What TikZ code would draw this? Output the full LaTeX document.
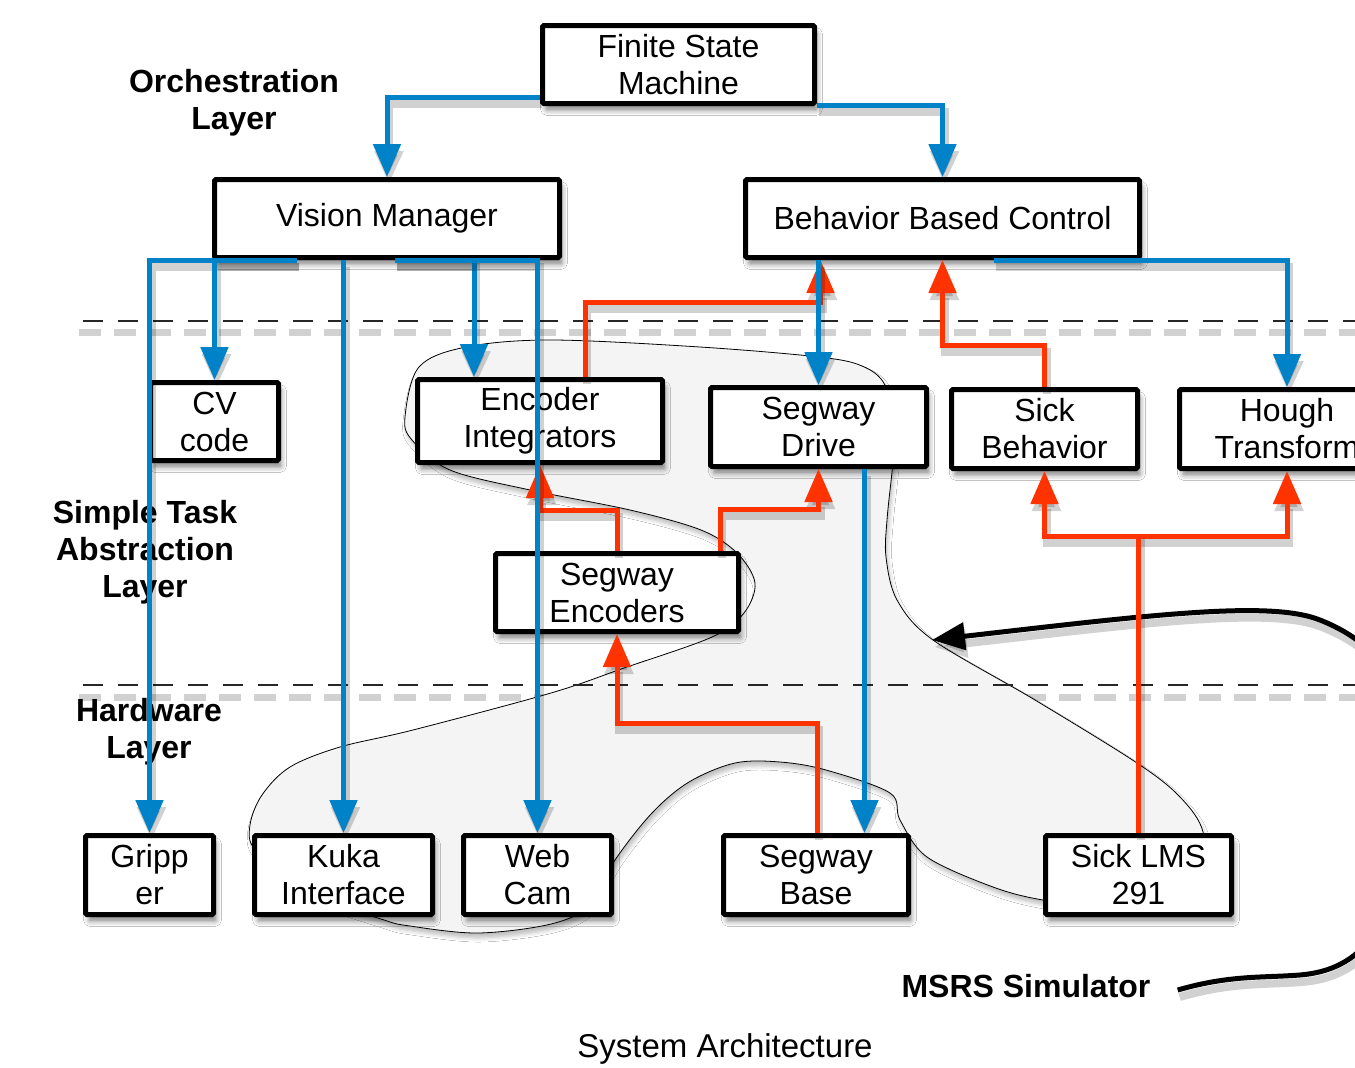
\documentclass[tikz,border=0pt]{standalone}
\usepackage{fontspec}
\setmainfont{Liberation Sans}
\usetikzlibrary{arrows.meta,shadows.blur,calc}
\definecolor{myblue}{RGB}{0,130,200}
\definecolor{myred}{RGB}{255,51,0}
\definecolor{blobfill}{RGB}{244,244,244}
\newcommand\boxfont{\fontsize{32}{37}\selectfont}
\newcommand\labfont{\fontsize{32}{37}\selectfont\bfseries}
\newcommand\capfont{\fontsize{33}{38}\selectfont}
\begin{document}
\begin{tikzpicture}[x=1pt,y=-1pt,
  box/.style={draw=black, line width=5pt, fill=white, inner sep=0pt, align=center, font=\boxfont, rounded corners=1.5pt,
    blur shadow={shadow xshift=3pt, shadow yshift=-7pt, shadow blur radius=5pt, shadow opacity=45}},
  conn/.style={line width=5pt, preaction={draw=black, opacity=0.18, line width=8pt, transform canvas={shift={(2,7)}}}},
  bluec/.style={conn, draw=myblue},
  redc/.style={conn, draw=myred},
  arr/.style={-{Triangle[length=33pt,width=27pt]}},
  lab/.style={align=center, inner sep=0pt, font=\labfont},
  dashblack/.style={line width=1.2pt, draw=black!85, dash pattern=on 20pt off 15pt},
  dashshadow/.style={line width=7pt, draw=black, opacity=0.18, dash pattern=on 22pt off 13pt},
]
\useasboundingbox (0,0) rectangle (1355,1068);
\fill[white] (0,0) rectangle (1355,1068);
\clip (0,0) rectangle (1355,1068);

% layer separators (shadows)
\draw[dashshadow] (79,332) -- (1360,332);
\draw[dashshadow] (79,697) -- (1360,697);

% simulator blob
\draw[line width=0.8pt, fill=blobfill,
  blur shadow={shadow xshift=2pt, shadow yshift=-5pt, shadow opacity=25, shadow blur radius=4pt}]
  plot[smooth cycle, tension=0.55] coordinates {
  (551,340) (700,347) (819,357) (862,366) (885,385) (896,430) (892,472) (887,520)
  (886,557) (897,600) (933,640) (1035,700) (1137,763) (1180,797) (1203,832)
  (1200,880) (1100,905) (1043,900) (993,887) (927,857) (900,820) (890,793)
  (826,770) (780,762) (735,763) (689,782) (652,813) (615,860) (590,905)
  (551,924) (478,933) (410,926) (381,919) (300,890) (255,850) (250,825)
  (262,795) (290,767) (340,747) (413,730) (551,693) (624,668) (712,637)
  (744,613) (755,583) (737,553) (701,530) (630,510) (530,490) (450,470)
  (412,440) (405,417) (419,367) (466,347)};

% layer separators
\draw[dashblack] (83,321) -- (1360,321);
\draw[dashblack] (83,685) -- (1360,685);

% layer labels
\node[lab] (orch) at (234,103) {Orchestration\\Layer};
\node[lab] (stal) at (145,552) {Simple Task\\Abstraction\\Layer};
\node[lab] (hwl) at (149,732) {Hardware\\Layer};

% boxes
\node[box, minimum width=272pt, minimum height=78pt] (fsm) at (678.5,64.5) {Finite State\\Machine};
\node[box, minimum width=345pt, minimum height=78pt] (vm) at (387,218.5) {Vision Manager};
\node[box, minimum width=394pt, minimum height=78pt] (bbc) at (942.5,218.5) {Behavior Based Control};
\node[box, minimum width=128pt, minimum height=78pt] (cv) at (214.5,421.5) {CV\\code};
\node[box, minimum width=245pt, minimum height=83pt] (ei) at (540,421) {Encoder\\Integrators};
\node[box, minimum width=216pt, minimum height=79pt] (sd) at (818.5,427) {Segway\\Drive};
\node[box, minimum width=186pt, minimum height=79pt] (sb) at (1044.5,429) {Sick\\Behavior};
\node[box, minimum width=215pt, minimum height=79pt] (ht) at (1287,429) {Hough\\Transform};
\node[box, minimum width=243pt, minimum height=78pt] (se) at (617,592.5) {Segway\\Encoders};
\node[box, minimum width=128pt, minimum height=79pt] (grip) at (149.5,875) {Gripp\\er};
\node[box, minimum width=178pt, minimum height=79pt] (kuka) at (343.5,875) {Kuka\\Interface};
\node[box, minimum width=148pt, minimum height=79pt] (webcam) at (537.5,875) {Web\\Cam};
\node[box, minimum width=185pt, minimum height=79pt] (sbase) at (816,875) {Segway\\Base};
\node[box, minimum width=186pt, minimum height=79pt] (slms) at (1138.5,875) {Sick LMS\\291};

% MSRS simulator label and pointer
\node[lab] (msrs) at (1026,986) {MSRS Simulator};
\coordinate (simt) at (932,640);
\draw[conn, draw=black, arr] ([xshift=27pt,yshift=-4pt]msrs.east)
  .. controls (1230,975) and (1260,978) .. (1300,975)
  .. controls (1360,970) and (1400,930) .. (1410,800)
  .. controls (1420,680) and (1370,640) .. (1320,620)
  .. controls (1270,600) and (1150,615) .. (simt);

% red (sensor) connectors
\draw[redc, arr] ([xshift=45pt]ei.north) -- ++(0,-75) -| ([xshift=-122pt]bbc.south);
\draw[redc, arr] (sb.north) -- ++(0,-42) -| (bbc.south);
\draw[redc, arr] (se.north) -- ++(0,-41) -| (ei.south);
\draw[redc, arr] ([xshift=103pt]se.north) -- ++(0,-42) -| (sd.south);
\draw[redc, arr] ([xshift=1pt]sbase.north) -- ++(0,-110) -| (se.south);
\coordinate (tj) at ([yshift=297pt]slms.north);
\draw[redc, arr] (slms.north) -- (tj) -| (sb.south);
\draw[redc, arr] (tj) -| (ht.south);

% blue (command) connectors
\draw[bluec, arr] ([yshift=-32.5pt]fsm.west) -| (vm.north);
\draw[bluec, arr] ([yshift=-40.5pt]fsm.east) -| (bbc.north);
\draw[bluec, arr] ([xshift=-90pt]vm.south) -| (grip.north);
\draw[bluec, arr] ([xshift=-90pt]vm.south) -| (cv.north);
\draw[bluec, arr] (kuka.north |- vm.south) -- (kuka.north);
\draw[bluec, arr] ([xshift=8pt]vm.south) -| ([xshift=-66pt]ei.north);
\draw[bluec, arr] ([xshift=8pt]vm.south) -| (webcam.north);
\draw[bluec, arr] (sd.north |- bbc.south) -- (sd.north);
\draw[bluec, arr] ([xshift=51pt]bbc.south) -| (ht.north);
\coordinate (sdo) at ([xshift=46pt]sd.south);
\draw[bluec, arr] (sdo) -- (sdo |- sbase.north);

% caption
\node[font=\capfont, inner sep=0pt] (cap) at (725,1049) {System Architecture};
\end{tikzpicture}
\end{document}
